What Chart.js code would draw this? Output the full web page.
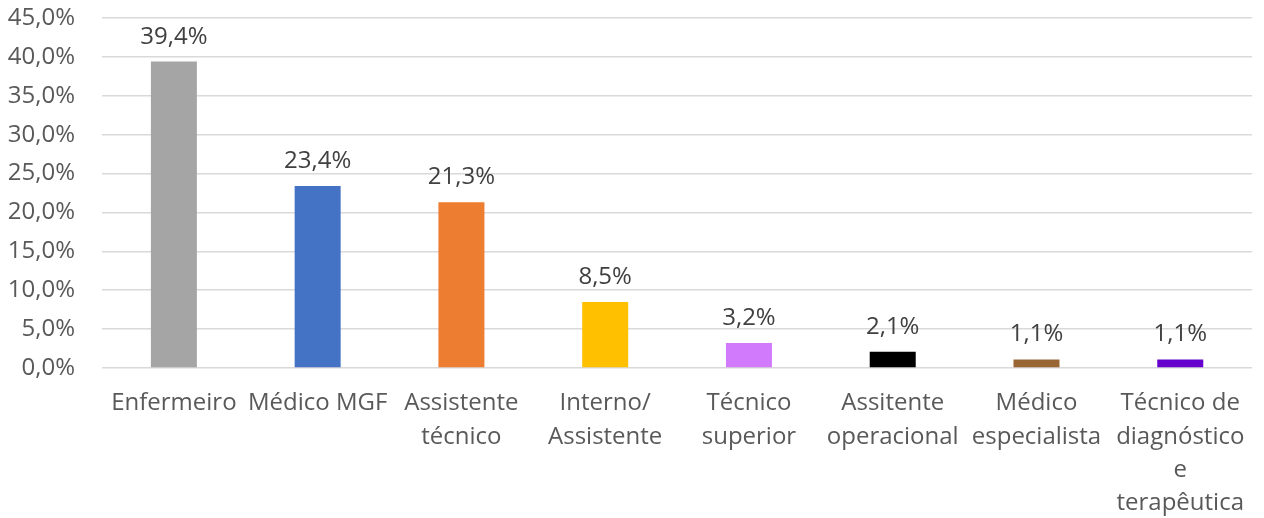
<!DOCTYPE html>
<html>
<head>
<meta charset="utf-8">
<script src="https://cdn.jsdelivr.net/npm/chart.js@4/dist/chart.umd.min.js"></script>
<style>
html,body{margin:0;padding:0;background:#fff;}
#wrap{width:1264px;height:518px;position:relative;}
</style>
</head>
<body>
<div id="wrap"><canvas id="c" width="1264" height="518"></canvas></div>
<script>
const categories = [
  "Enfermeiro",
  "Médico MGF",
  ["Assistente", "técnico"],
  ["Interno/", "Assistente"],
  ["Técnico", "superior"],
  ["Assitente", "operacional"],
  ["Médico", "especialista"],
  ["Técnico de", "diagnóstico", "e", "terapêutica"]
];
const values = [39.4, 23.4, 21.3, 8.5, 3.2, 2.1, 1.1, 1.1];
const barColors = ["#a5a5a5", "#4472c4", "#ed7d31", "#ffc000", "#d17bfc", "#000000", "#996633", "#6600cc"];
const yTicks = [0, 5, 10, 15, 20, 25, 30, 35, 40, 45];

const fmt = v => v.toFixed(1).replace('.', ',') + '%';
const FONT = "'Open Sans', sans-serif";
const TXT = "#595959";
const LBL = "#404040";

const labelPlugin = {
  id: 'valueLabels',
  afterDatasetsDraw(chart) {
    const ctx = chart.ctx;
    const meta = chart.getDatasetMeta(0);
    ctx.save();
    ctx.font = "24px " + FONT;
    ctx.fillStyle = LBL;
    ctx.textAlign = 'center';
    ctx.textBaseline = 'alphabetic';
    meta.data.forEach((bar, i) => {
      ctx.fillText(fmt(values[i]), bar.x, bar.y - 18);
    });
    ctx.restore();
  }
};

new Chart(document.getElementById('c'), {
  type: 'bar',
  data: {
    labels: categories,
    datasets: [{
      data: values,
      backgroundColor: barColors,
      borderWidth: 0,
      barPercentage: 0.32,
      categoryPercentage: 1.0
    }]
  },
  options: {
    responsive: false,
    animation: false,
    devicePixelRatio: 1,
    layout: { padding: { top: 18, right: 10, left: 0, bottom: 0 } },
    plugins: { legend: { display: false }, tooltip: { enabled: false } },
    scales: {
      x: {
        grid: { display: false, drawTicks: false },
        border: { display: false },
        ticks: {
          color: TXT,
          font: { family: FONT, size: 24, lineHeight: 1.38 },
          padding: 19,
          maxRotation: 0,
          autoSkip: false
        },
        afterFit(scale) { scale.height = 150; scale.paddingTop = 0; }
      },
      y: {
        min: 0,
        max: 45,
        afterBuildTicks(scale) { scale.ticks = yTicks.map(v => ({ value: v })); },
        grid: { color: "#d9d9d9", lineWidth: 1.5, drawTicks: false },
        border: { display: false },
        ticks: {
          color: TXT,
          font: { family: FONT, size: 24 },
          padding: 27,
          callback: v => fmt(v)
        },
        afterFit(scale) { scale.width = 102; scale.paddingTop = 0; scale.paddingBottom = 0; }
      }
    }
  },
  plugins: [labelPlugin]
});
</script>
</body>
</html>
